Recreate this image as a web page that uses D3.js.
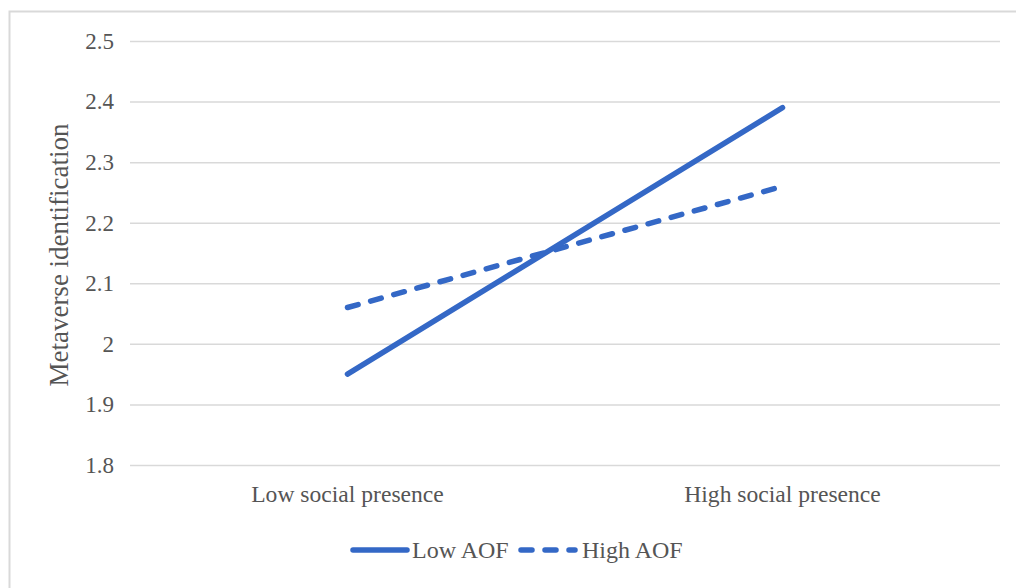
<!DOCTYPE html>
<html><head><meta charset="utf-8">
<script src="https://cdn.jsdelivr.net/npm/d3@7"></script>
<style>body{margin:0;background:#fff;}svg{display:block;}</style>
</head><body>
<svg id="c" width="1016" height="588"></svg>
<script>
const categories = ["Low social presence", "High social presence"];
const lowAOF = [1.95, 2.39];
const highAOF = [2.06, 2.26];
const yTicks = [1.8, 1.9, 2, 2.1, 2.2, 2.3, 2.4, 2.5];
const seriesNames = ["Low AOF", "High AOF"];

(function () {
const svg = d3.select("#c");
const color = "#3468c6", textCol = "#555555", font = "'Liberation Serif', 'Times New Roman', serif";
svg.append("rect").attr("x", 9.5).attr("y", 11.5).attr("width", 1020).attr("height", 600)
  .attr("fill", "none").attr("stroke", "#d9d9d9").attr("stroke-width", 2);

const pL = 130, pR = 1000, pT = 41, pB = 465;
const x = d3.scaleBand().domain(categories).range([pL, pR]);
const y = d3.scaleLinear().domain([1.8, 2.5]).range([pB, pT]);

const yAxis = svg.append("g").attr("transform", `translate(${pL},0)`)
  .call(d3.axisLeft(y).tickValues(yTicks).tickSize(-(pR - pL)).tickPadding(16).tickFormat(d => d3.format("")(d)));
yAxis.select(".domain").remove();
yAxis.selectAll(".tick line").attr("stroke", "#d9d9d9").attr("stroke-width", 1.5);
yAxis.selectAll(".tick text").attr("fill", textCol).style("font-family", font).style("font-size", "23px");

const xAxis = svg.append("g").attr("transform", `translate(0,${pB})`)
  .call(d3.axisBottom(x).tickSize(0).tickPadding(20));
xAxis.select(".domain").remove();
xAxis.selectAll(".tick text").attr("fill", textCol).style("font-family", font).style("font-size", "23.6px");

svg.append("text").attr("transform", `translate(68,${(pT + pB) / 2 + 2}) rotate(-90)`)
  .attr("text-anchor", "middle").attr("fill", textCol)
  .style("font-family", font).style("font-size", "27px").text("Metaverse identification");

const line = d3.line().x((d, i) => x(categories[i]) + x.bandwidth() / 2).y(d => y(d));
svg.append("path").datum(highAOF).attr("d", line).attr("fill", "none").attr("stroke", color)
  .attr("stroke-width", 5.5).attr("stroke-linecap", "round").attr("stroke-dasharray", "11,13");
svg.append("path").datum(lowAOF).attr("d", line).attr("fill", "none").attr("stroke", color)
  .attr("stroke-width", 5.5).attr("stroke-linecap", "round");

const lg = svg.append("g");
lg.append("line").attr("x1", 353).attr("x2", 407).attr("y1", 550).attr("y2", 550)
  .attr("stroke", color).attr("stroke-width", 5.5).attr("stroke-linecap", "round");
lg.append("text").attr("x", 412).attr("y", 558).attr("fill", textCol)
  .style("font-family", font).style("font-size", "24px").text(seriesNames[0]);
lg.append("line").attr("x1", 521).attr("x2", 575).attr("y1", 550).attr("y2", 550)
  .attr("stroke", color).attr("stroke-width", 5.5).attr("stroke-linecap", "round").attr("stroke-dasharray", "11,13");
lg.append("text").attr("x", 582).attr("y", 558).attr("fill", textCol)
  .style("font-family", font).style("font-size", "24px").text(seriesNames[1]);
})();
</script>
</body></html>
